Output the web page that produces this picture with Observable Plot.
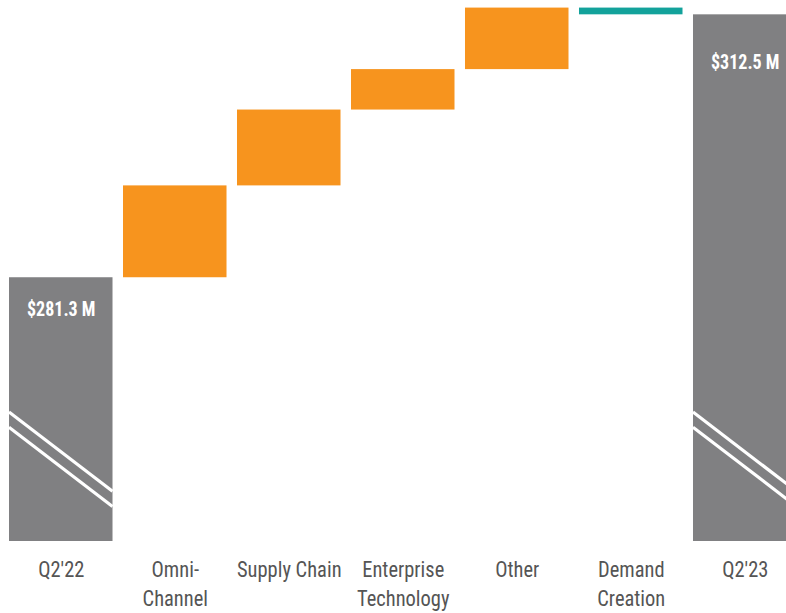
<!DOCTYPE html>
<html><head><meta charset="utf-8">
<script src="https://cdn.jsdelivr.net/npm/d3@7"></script>
<script src="https://cdn.jsdelivr.net/npm/@observablehq/plot@0.6"></script>
<style>
html,body{margin:0;padding:0;background:#fff;overflow:hidden;}
</style></head><body><div id="chart"></div>
<script>
const categories = ["Q2'22", "Omni-\nChannel", "Supply Chain", "Enterprise\nTechnology", "Other", "Demand\nCreation", "Q2'23"];
const startValue = 281.3;
const deltas = [10.9, 9.0, 4.8, 7.3, -0.8];
const endValue = 312.5;
const valueLabels = ["$281.3 M", "$312.5 M"];
const axisBase = 250;   // broken-axis floor ($M)
const axisTop = 314.2;
const breakTop = 265.3, breakDrop = 9.4, breakGap = 1.8; // axis-break marks ($M)

const rows = [];
rows.push({cat: categories[0], y1: axisBase, y2: startValue, kind: "total", label: valueLabels[0]});
let run = startValue;
deltas.forEach((d, i) => {
  rows.push({cat: categories[i + 1], y1: run, y2: run + d, kind: d >= 0 ? "up" : "down"});
  run += d;
});
rows.push({cat: categories[6], y1: axisBase, y2: endValue, kind: "total", label: valueLabels[1]});
const totals = rows.filter(r => r.kind === "total");

function breakMark(index, scales) {
  const g = d3.create("svg:g");
  const bw = typeof scales.x.bandwidth === "function" ? scales.x.bandwidth() : 0;
  for (const r of totals) {
    const x0 = scales.x(r.cat), x1 = x0 + bw;
    for (const off of [0, breakGap]) {
      g.append("line")
        .attr("x1", x0).attr("x2", x1)
        .attr("y1", scales.y(breakTop - off))
        .attr("y2", scales.y(breakTop - breakDrop - off))
        .attr("stroke", "white").attr("stroke-width", 3.2);
    }
  }
  return g.node();
}

const font = "'Liberation Sans Narrow', 'Arial Narrow', 'Roboto Condensed', 'DejaVu Sans Condensed', sans-serif";
const tickFont = 20.5, stretch = 1.11;

const chart = Plot.plot({
  width: 786,
  height: 613,
  marginTop: 0,
  marginBottom: 72,
  marginLeft: 0,
  marginRight: 0,
  style: {fontFamily: font, background: "white"},
  x: {domain: categories, range: [9, 796.5], paddingInner: 0.092, paddingOuter: 0, round: false, axis: null},
  y: {domain: [axisBase, axisTop], axis: null},
  color: {domain: ["total", "up", "down"], range: ["#808082", "#f7941e", "#13a29b"]},
  marks: [
    Plot.rectY(rows, {x: "cat", y1: "y1", y2: "y2", fill: "kind"}),
    breakMark,
    Plot.text([totals[0]], {x: "cat", y: "y2", text: "label", fill: "white", fontWeight: "bold", fontSize: 18, dy: 32}),
    Plot.text([totals[1]], {x: "cat", y: "y2", text: "label", fill: "white", fontWeight: "bold", fontSize: 18, dy: 48}),
    Plot.axisX({tickSize: 0, tickPadding: 17, fontSize: tickFont, lineHeight: 1.26, color: "#555", fill: "#555", label: null})
  ]
});
document.getElementById("chart").append(chart);
// stretch glyphs vertically (tall condensed lettering of the original), anchored at first baseline
chart.querySelectorAll("text").forEach(t => {
  const b = t.getBBox();
  const fs = parseFloat(getComputedStyle(t).fontSize) || tickFont;
  const cy = b.y + 0.905 * fs;
  const orig = t.getAttribute("transform") || "";
  t.setAttribute("transform", `${orig} translate(0,${cy}) scale(1,${stretch}) translate(0,${-cy})`);
});
</script></body></html>
